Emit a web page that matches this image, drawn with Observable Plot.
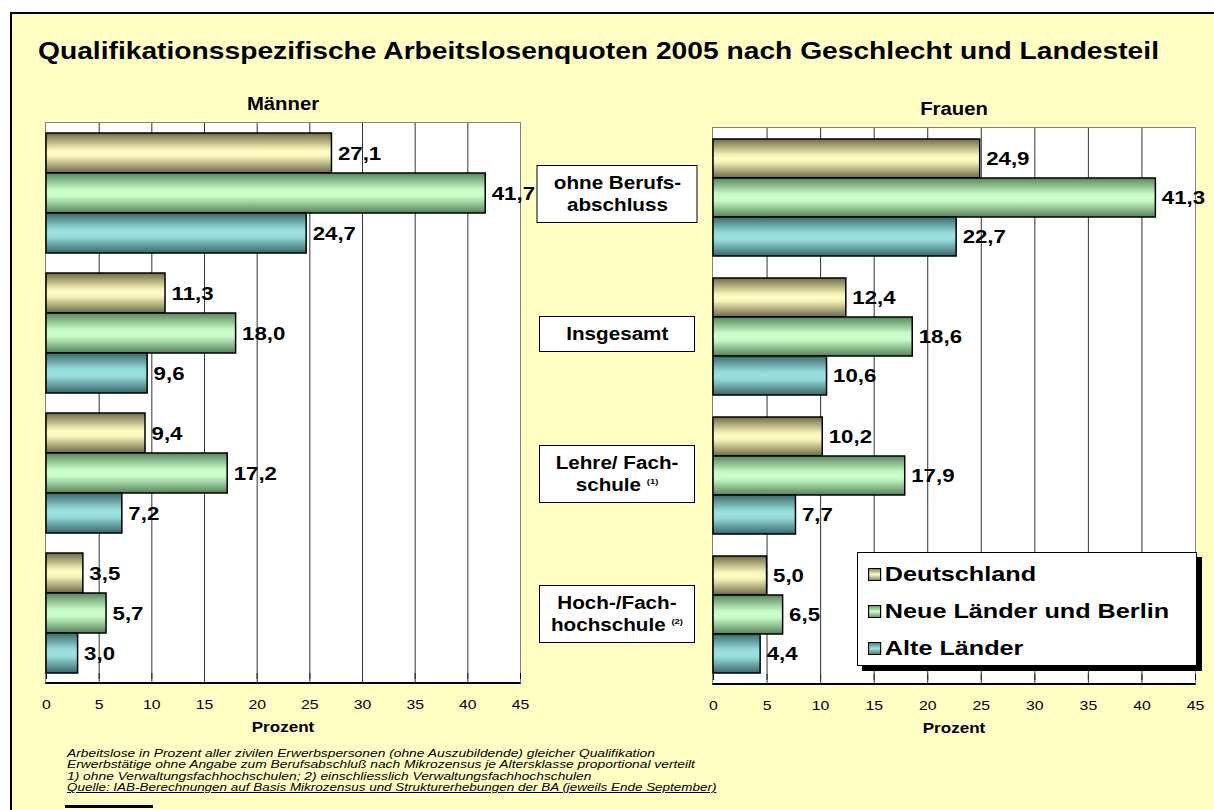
<!DOCTYPE html>
<html>
<head>
<meta charset="utf-8">
<script src="https://cdn.jsdelivr.net/npm/d3@7"></script>
<script src="https://cdn.jsdelivr.net/npm/@observablehq/plot@0.6"></script>
<style>
  html, body { margin: 0; padding: 0; background: #ffffff; }
  #wrap { position: relative; width: 1214px; height: 810px; overflow: hidden; font-family: Arial, "Liberation Sans", sans-serif; color: #000; }
  #frame { position: absolute; left: 10px; top: 12px; width: 1230px; height: 830px; border-left: 2px solid #000; border-top: 2px solid #000; background: #FFFFC4; box-sizing: border-box; }
  #title { position: absolute; left: 38px; top: 38px; font-size: 23.5px; font-weight: bold; line-height: 26px; white-space: nowrap; transform: scaleX(1.2); transform-origin: 0 50%; }
  .ptitle { position: absolute; font-size: 17.5px; font-weight: bold; transform: translate(-50%, -50%) scaleX(1.16); white-space: nowrap; }
  .xlabel { position: absolute; font-size: 15.5px; font-weight: bold; transform: translate(-50%, -50%) scaleX(1.1); white-space: nowrap; }
  .pbox { position: absolute; background: #fff; box-sizing: border-box; border: 1px solid #808080; border-bottom: 2px solid #000; }
  .plot { position: absolute; }
  .cat { position: absolute; background: #fff; border: 1px solid #000; box-sizing: border-box; text-align: center; padding: 6px 0; transform: translate(-50%, -50%); white-space: nowrap; }
  .cat .in { display: inline-block; font-size: 17.5px; font-weight: bold; line-height: 22px; transform: scaleX(1.18); }
  .cat sup { font-size: 8px; vertical-align: 7px; line-height: 0; }
  #legend { position: absolute; left: 857px; top: 552px; width: 340px; height: 114px; background: #fff; border: 1px solid #000; box-sizing: border-box; box-shadow: 5px 5px 0 #000; }
  .litem { position: absolute; left: 10px; font-size: 21px; font-weight: bold; line-height: 22px; white-space: nowrap; transform: translateY(-50%) scaleX(1.2); transform-origin: 0 50%; }
  .sw { display: inline-block; width: 11px; height: 13px; border: 1px solid #000; box-sizing: border-box; margin-right: 3px; vertical-align: 0px; }
  #notes { position: absolute; left: 67px; top: 748px; font-size: 11.5px; font-style: italic; line-height: 11.4px; white-space: nowrap; transform: scaleX(1.2); transform-origin: 0 0; }
  #notes .q { text-decoration: underline; display: inline-block; transform: scaleX(0.975); transform-origin: 0 0; }
  #blk { position: absolute; left: 65px; top: 805px; width: 88px; height: 3px; background: #000; }
</style>
</head>
<body>
<svg width="0" height="0" style="position:absolute">
  <defs>
    <linearGradient id="gD" x1="0" y1="0" x2="0" y2="1">
      <stop offset="0" stop-color="#6f6b48"/>
      <stop offset="0.4" stop-color="#f4f0b4"/>
      <stop offset="0.5" stop-color="#fffcc6"/>
      <stop offset="0.6" stop-color="#f4f0b4"/>
      <stop offset="1" stop-color="#6a6746"/>
    </linearGradient>
    <linearGradient id="gN" x1="0" y1="0" x2="0" y2="1">
      <stop offset="0" stop-color="#5a865d"/>
      <stop offset="0.4" stop-color="#c4f7c4"/>
      <stop offset="0.5" stop-color="#ccffcc"/>
      <stop offset="0.6" stop-color="#c4f7c4"/>
      <stop offset="1" stop-color="#56825a"/>
    </linearGradient>
    <linearGradient id="gA" x1="0" y1="0" x2="0" y2="1">
      <stop offset="0" stop-color="#3c6a6b"/>
      <stop offset="0.4" stop-color="#94d9d9"/>
      <stop offset="0.5" stop-color="#9ce0e0"/>
      <stop offset="0.6" stop-color="#94d9d9"/>
      <stop offset="1" stop-color="#396768"/>
    </linearGradient>
  </defs>
</svg>
<div id="wrap">
  <div id="frame"></div>
  <div id="title"></div>
</div>
<script>
// ---- data ----
const title = "Qualifikationsspezifische Arbeitslosenquoten 2005 nach Geschlecht und Landesteil";
const panelTitles = ["Männer", "Frauen"];
const categories = ["ohne Berufsabschluss", "Insgesamt", "Lehre/ Fachschule", "Hoch-/Fachhochschule"];
const categoryLines = [["ohne Berufs-", "abschluss"], ["Insgesamt"], ["Lehre/ Fach-", "schule"], ["Hoch-/Fach-", "hochschule"]];
const categoryNotes = ["", "", "(1)", "(2)"];
const series = ["Deutschland", "Neue Länder und Berlin", "Alte Länder"];
const seriesFills = ["url(#gD)", "url(#gN)", "url(#gA)"];

const menDeutschland = [27.1, 11.3, 9.4, 3.5];
const menNeueLaender = [41.7, 18.0, 17.2, 5.7];
const menAlteLaender = [24.7, 9.6, 7.2, 3.0];

const womenDeutschland = [24.9, 12.4, 10.2, 5.0];
const womenNeueLaender = [41.3, 18.6, 17.9, 6.5];
const womenAlteLaender = [22.7, 10.6, 7.7, 4.4];

const xTicks = [0, 5, 10, 15, 20, 25, 30, 35, 40, 45];
const xLabel = "Prozent";
const notes = [
  "Arbeitslose in Prozent aller zivilen Erwerbspersonen (ohne Auszubildende) gleicher Qualifikation",
  "Erwerbstätige ohne Angabe zum Berufsabschluß nach Mikrozensus je Altersklasse proportional verteilt",
  "1) ohne Verwaltungsfachhochschulen; 2) einschliesslich Verwaltungsfachhochschulen",
  "Quelle: IAB-Berechnungen auf Basis Mikrozensus und Strukturerhebungen der BA (jeweils Ende September)"
];

// ---- build ----
const fmt = v => d3.format(".1f")(v).replace(".", ",");
const wrap = document.getElementById("wrap");
document.getElementById("title").textContent = title;

function rowsOf(valueSets) {
  const rows = [];
  categories.forEach((c, i) => series.forEach((s, j) => rows.push({category: c, series: s, value: valueSets[j][i]})));
  return rows;
}

function stretchTexts(svg, k) {
  svg.querySelectorAll("text").forEach(t => {
    const w = t.getComputedTextLength();
    if (w > 0) {
      t.setAttribute("textLength", (w * k).toFixed(2));
      t.setAttribute("lengthAdjust", "spacingAndGlyphs");
    }
  });
}

function panel(valueSets, L) {
  const rows = rowsOf(valueSets);
  const plot = Plot.plot({
    width: L.width, height: L.height,
    marginLeft: L.ml, marginRight: L.mr, marginTop: L.mt, marginBottom: L.mb,
    style: {background: "transparent", fontFamily: "Arial, 'Liberation Sans', sans-serif", fontSize: "13.5px", color: "#000", overflow: "visible"},
    facet: {data: rows, y: "category"},
    fy: {domain: categories, axis: null, paddingInner: 1/7, paddingOuter: 1/14},
    x: {domain: [0, 45], ticks: xTicks, tickSize: 6, tickPadding: 20, tickFormat: d => String(d), label: null},
    y: {domain: series, axis: null, paddingInner: 0, paddingOuter: 0},
    color: {domain: series, range: seriesFills},
    marks: [
      Plot.ruleX(xTicks.slice(1, -1), {stroke: "#333", strokeWidth: 1, insetTop: -10, insetBottom: -10}),
      Plot.barX(rows, {x: "value", y: "series", fill: "series", stroke: "#000", strokeWidth: 1.5}),
      Plot.text(rows, {x: "value", y: "series", text: d => fmt(d.value), textAnchor: "start", dx: 6, fontWeight: "bold", fontSize: 19, fill: "#000"})
    ]
  });
  const box = document.createElement("div");
  box.className = "pbox";
  box.style.left = (L.left + L.ml - 1) + "px";
  box.style.top = (L.top + L.mt - 1) + "px";
  box.style.width = (L.width - L.ml - L.mr + 2) + "px";
  box.style.height = (L.height - L.mt - L.mb + 2) + "px";
  wrap.appendChild(box);
  plot.classList.add("plot");
  plot.style.left = L.left + "px";
  plot.style.top = L.top + "px";
  wrap.appendChild(plot);
  stretchTexts(plot, 1.17);
  const cx = L.left + L.ml + (L.width - L.ml - L.mr) / 2;
  const t = document.createElement("div");
  t.className = "ptitle"; t.textContent = L.title;
  t.style.left = cx + "px"; t.style.top = L.titleY + "px";
  wrap.appendChild(t);
  const xl = document.createElement("div");
  xl.className = "xlabel"; xl.textContent = xLabel;
  xl.style.left = cx + "px"; xl.style.top = (L.top + L.height - L.mb + 44) + "px";
  wrap.appendChild(xl);
  return plot;
}

const left = {left: 0, top: 110, width: 540, height: 625, ml: 46, mr: 20, mt: 13, mb: 52, title: panelTitles[0], titleY: 104};
const right = {left: 680, top: 115, width: 534, height: 621, ml: 33, mr: 19, mt: 13, mb: 52, title: panelTitles[1], titleY: 109};

const pL = panel([menDeutschland, menNeueLaender, menAlteLaender], left);
const pR = panel([womenDeutschland, womenNeueLaender, womenAlteLaender], right);

// category labels between the panels, at the centres of the left panel's facet bands
const fy = pL.scale("fy");
const band = d3.scaleBand().domain(categories).range([left.mt, left.height - left.mb]).paddingInner(1/7).paddingOuter(1/14);
categories.forEach((c, i) => {
  const y0 = (fy && fy.apply) ? fy.apply(c) : band(c);
  const bw = (fy && fy.bandwidth) ? fy.bandwidth : band.bandwidth();
  const d = document.createElement("div");
  d.className = "cat";
  d.style.left = "617px";
  d.style.top = (left.top + y0 + bw / 2 + 1) + "px";
  d.style.width = (i === 0 ? 161 : 156) + "px";
  const lines = categoryLines[i].slice();
  d.innerHTML = '<span class="in">' + lines.map((s, k) => k === lines.length - 1 && categoryNotes[i] ? s + " <sup>" + categoryNotes[i] + "</sup>" : s).join("<br>") + "</span>";
  wrap.appendChild(d);
});

// legend
const leg = document.createElement("div");
leg.id = "legend";
const swatchCss = ["#8a8660,#fffcc6 50%,#8a8660", "#6f9b72,#ccffcc 50%,#6f9b72", "#4f8182,#9ce0e0 50%,#4f8182"];
series.forEach((s, j) => {
  const it = document.createElement("div");
  it.className = "litem";
  it.style.top = (21 + j * 37) + "px";
  it.innerHTML = `<span class="sw" style="background:linear-gradient(${swatchCss[j]})"></span>${s}`;
  leg.appendChild(it);
});
wrap.appendChild(leg);

// notes
const nt = document.createElement("div");
nt.id = "notes";
nt.innerHTML = notes.map((n, i) => i === notes.length - 1 ? `<span class="q">${n}</span>` : n).join("<br>");
wrap.appendChild(nt);
const blk = document.createElement("div");
blk.id = "blk";
wrap.appendChild(blk);
</script>
</body>
</html>
